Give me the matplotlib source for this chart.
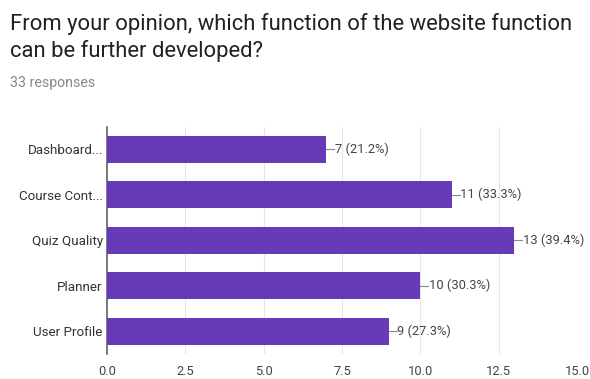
import matplotlib.pyplot as plt

# Survey results
categories = ['Dashboard...', 'Course Cont...', 'Quiz Quality', 'Planner', 'User Profile']
counts = [7, 11, 13, 10, 9]
percents = [21.2, 33.3, 39.4, 30.3, 27.3]
xticks = [0.0, 2.5, 5.0, 7.5, 10.0, 12.5, 15.0]

plt.rcParams['font.family'] = ['Roboto', 'DejaVu Sans']

fig = plt.figure(figsize=(5.9, 3.79), dpi=100)
ax = fig.add_axes([0.1814, 0.066, 0.7966, 0.6])

ypos = list(range(len(categories)))
ax.barh(ypos, counts, height=0.6, color='#673ab7', zorder=3)

# value labels with small leader line
for y, c, p in zip(ypos, counts, percents):
    ax.plot([c, c + 0.25], [y, y], color='#888888', lw=0.8, zorder=3, clip_on=False)
    ax.text(c + 0.27, y, f'{c} ({p}%)', va='center', ha='left',
            fontsize=9.3, color='#444444', clip_on=False)

ax.set_yticks(ypos)
ax.set_yticklabels(categories, fontsize=9.6, color='#333333')
ax.set_ylim(4.5, -0.5)
ax.set_xlim(0, 15)
ax.set_xticks(xticks)
ax.set_xticklabels([f'{t:.1f}' for t in xticks], fontsize=9.3, color='#444444')
ax.tick_params(length=0, pad=3)
ax.tick_params(axis='x', pad=8)

ax.grid(axis='x', color='#e6e6e6', lw=0.8, zorder=0)
for s in ['top', 'right', 'bottom']:
    ax.spines[s].set_visible(False)
ax.spines['left'].set_color('#666666')
ax.spines['left'].set_linewidth(1.2)

fig.text(0.017, 0.965, 'From your opinion, which function of the website function\ncan be further developed?',
         fontsize=15.8, color='#202124', va='top', ha='left', linespacing=1.25)
fig.text(0.017, 0.78, '33 responses', fontsize=10.2, color='#888888', va='center', ha='left')

fig.savefig('out.png', dpi=100)
